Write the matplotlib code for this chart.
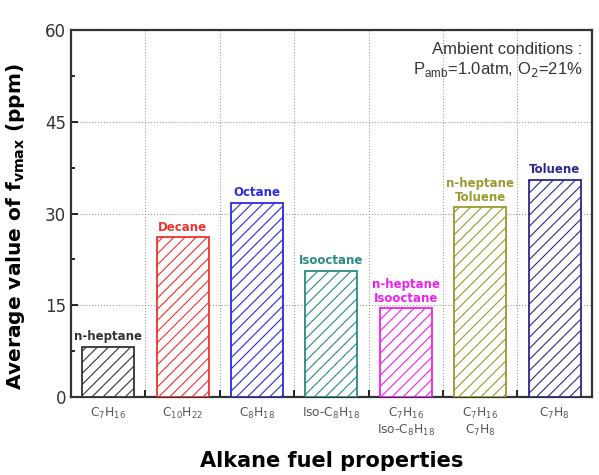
import numpy as np
import matplotlib.pyplot as plt
from matplotlib.ticker import MultipleLocator, FixedLocator

plt.rcParams['hatch.linewidth'] = 0.8

# data
formulas = [r'C$_7$H$_{16}$', r'C$_{10}$H$_{22}$', r'C$_8$H$_{18}$', r'Iso-C$_8$H$_{18}$',
            'C$_7$H$_{16}$\nIso-C$_8$H$_{18}$', 'C$_7$H$_{16}$\nC$_7$H$_8$', r'C$_7$H$_8$']
fuels = ['n-heptane', 'Decane', 'Octane', 'Isooctane',
         'n-heptane\nIsooctane', 'n-heptane\nToluene', 'Toluene']
values = [8.2, 26.1, 31.7, 20.6, 14.5, 31.0, 35.5]
colors = ['#333333', '#f03030', '#2a2ae0', '#2a8a84', '#f020f0', '#9a9a30', '#2a2a8a']

fig = plt.figure(figsize=(5.99, 4.75), dpi=100)
ax = fig.add_axes([0.1185, 0.164, 0.8695, 0.773])

x = np.arange(len(values))
for i in x:
    ax.bar(i, values[i], width=0.7, facecolor='white', edgecolor=colors[i],
           hatch='///', linewidth=1.3, zorder=3)
    ax.text(i, values[i] + 0.6, fuels[i], ha='center', va='bottom', color=colors[i],
            fontsize=8.5, fontweight='bold', linespacing=1.1, zorder=4)

ax.set_xlim(-0.5, 6.5)
ax.set_ylim(0, 60)
ax.yaxis.set_major_locator(MultipleLocator(15))
ax.yaxis.set_minor_locator(MultipleLocator(7.5))
ax.xaxis.set_major_locator(FixedLocator(x + 0.5))
ax.xaxis.set_minor_locator(FixedLocator(x))
ax.set_xticklabels([])
ax.set_xticks(x, formulas, minor=True)
ax.tick_params(axis='x', which='minor', labelsize=8.8, labelcolor='#555555', pad=6)
ax.tick_params(axis='y', labelsize=12, labelcolor='#333333')
ax.tick_params(which='both', direction='in', top=False, right=False, width=1.2)
ax.tick_params(which='major', length=5)
ax.tick_params(which='minor', length=3)

ax.grid(True, which='major', linestyle=':', color='#999999', linewidth=0.8, zorder=0)
for s in ax.spines.values():
    s.set_linewidth(1.6)
    s.set_color('#333333')

ax.set_ylabel(r'Average value of f$_{\mathbf{vmax}}$ (ppm)', fontsize=14.5, fontweight='bold')
ax.yaxis.set_label_coords(-0.084, 0.465)
ax.set_xlabel('Alkane fuel properties', fontsize=15, fontweight='bold')
ax.xaxis.set_label_coords(0.5, -0.148)

ax.text(0.982, 0.968, 'Ambient conditions :\nP$_{\\mathregular{amb}}$=1.0atm, O$_2$=21%',
        transform=ax.transAxes, ha='right', va='top', fontsize=12,
        family='Liberation Sans', color='#333333', linespacing=1.25)

fig.savefig('out.png', dpi=100)
